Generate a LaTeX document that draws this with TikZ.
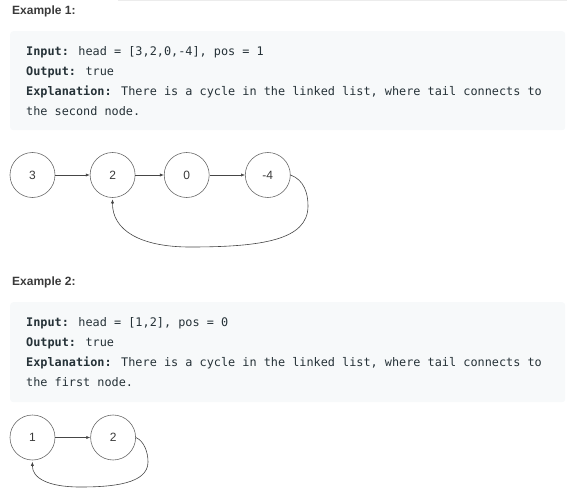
\documentclass[tikz,border=0pt]{standalone}
\usepackage{fontspec}
\setmainfont{Liberation Sans}
\newfontfamily\codefont{DejaVu Sans Mono}
\usepackage{xcolor}
\usetikzlibrary{arrows.meta,positioning}
\definecolor{headGray}{RGB}{58,58,58}
\definecolor{codeInk}{RGB}{38,50,56}
\definecolor{codeBg}{RGB}{247,249,250}
\definecolor{ringGray}{RGB}{105,105,105}
\definecolor{linkGray}{RGB}{70,70,70}
\definecolor{ruleGray}{RGB}{236,236,236}
\tikzset{
  heading/.style={anchor=base west,inner sep=0pt,text=headGray,font=\bfseries\fontsize{12}{14}\selectfont},
  codebox/.style={anchor=north west,fill=codeBg,rounded corners=3pt,minimum width=555pt,minimum height=99pt,inner sep=0pt},
  codeline/.style={anchor=base west,inner sep=0pt,text=codeInk,font=\codefont\fontsize{11.84}{14}\selectfont},
  listnode/.style={circle,draw=ringGray,line width=.6pt,minimum size=45pt,inner sep=0pt,font=\fontsize{12}{14}\selectfont,text=headGray},
  link/.style={draw=linkGray,line width=.6pt,-{Latex[length=4pt,width=3.2pt]}},
}

\begin{document}
\begin{tikzpicture}[x=1pt,y=-1pt]
\useasboundingbox (0,0) rectangle (567,497);
\draw[ruleGray,line width=1pt] (118,0.5) -- (567,0.5);

% Example 1
\node[heading] (ex1) at (12,15) {Example 1:};
\node[codebox] (box1) at (10,31) {};
\node[codeline] (in1) at (26,55.5) {\textbf{Input:} head = [3,2,0,-4], pos = 1};
\node[codeline] (out1) at (26,75.5) {\textbf{Output:} true};
\node[codeline] (expl1) at (26,95.5) {\textbf{Explanation:} There is a cycle in the linked list, where tail connects to};
\node[codeline] (expl1b) at (26,115.5) {the second node.};

\node[listnode] (n3) at (32.5,175) {3};
\node[listnode,right=34.5pt of n3] (n2) {2};
\node[listnode,right=28.5pt of n2] (n0) {0};
\node[listnode,right=35.5pt of n0] (nm4) {-4};
\draw[link] (n3) -- (n2);
\draw[link] (n2) -- (n0);
\draw[link] (n0) -- (nm4);
\draw[link,shorten >=1.5pt] (nm4.east) .. controls (304,180) and (308,193) .. (308,206)
  .. controls (308,240) and (262,247) .. (190,247)
  .. controls (140,247) and (112,230) .. (n2.south);

% Example 2
\node[heading] (ex2) at (12,285) {Example 2:};
\node[codebox,minimum height=100pt] (box2) at (10,302) {};
\node[codeline] (in2) at (26,326.5) {\textbf{Input:} head = [1,2], pos = 0};
\node[codeline] (out2) at (26,346.5) {\textbf{Output:} true};
\node[codeline] (expl2) at (26,366.5) {\textbf{Explanation:} There is a cycle in the linked list, where tail connects to};
\node[codeline] (expl2b) at (26,386.5) {the first node.};

\node[listnode] (m1) at (32.5,437.5) {1};
\node[listnode,right=35pt of m1] (m2) {2};
\draw[link] (m1) -- (m2);
\draw[link,shorten >=1.5pt] (m2.east) .. controls (144,441) and (148,452) .. (148,462)
  .. controls (148,484) and (112,487) .. (80,487)
  .. controls (48,487) and (32,478) .. (m1.south);
\end{tikzpicture}
\end{document}
